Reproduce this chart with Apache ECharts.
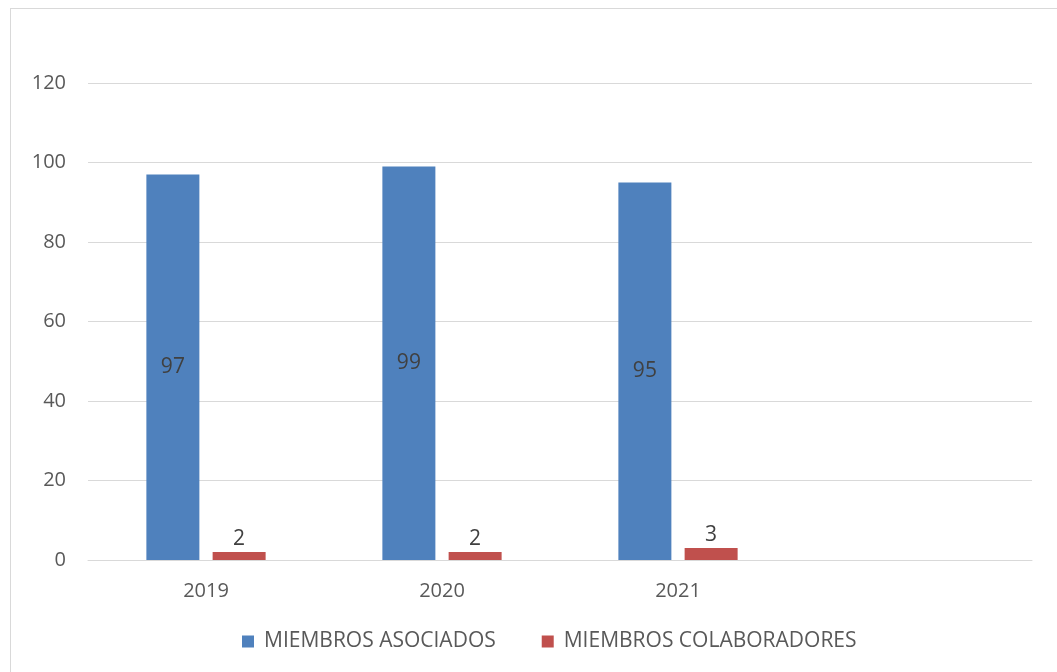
<!DOCTYPE html>
<html>
<head>
<meta charset="utf-8">
<script src="https://cdn.jsdelivr.net/npm/echarts@6/dist/echarts.min.js"></script>
<style>
html,body{margin:0;padding:0;background:#fff;overflow:hidden;}
#chart{width:1057px;height:672px;}
#frame{position:absolute;left:10px;top:8px;width:1200px;height:800px;border:1px solid #d9d9d9;pointer-events:none;}
</style>
</head>
<body>
<div id="chart"></div>
<div id="frame"></div>
<script>
const categories = ['2019', '2020', '2021', ''];
const asociados = [97, 99, 95, null];
const colaboradores = [2, 2, 3, null];
const yTicks = { min: 0, max: 120, interval: 20 };

const chart = echarts.init(document.getElementById('chart'));
const font = 'Open Sans, Liberation Sans, sans-serif';
chart.setOption({
  animation: false,
  grid: { left: 88, right: 25, top: 83, bottom: 112, containLabel: false },
  legend: {
    bottom: 15, left: 237,
    itemWidth: 12, itemHeight: 12, itemGap: 46,
    icon: 'rect',
    textStyle: { color: '#595959', fontSize: 21, fontFamily: font, padding: [0, 0, 0, 5] }
  },
  xAxis: {
    type: 'category', data: categories,
    axisLine: { lineStyle: { color: '#d9d9d9', width: 1 } },
    axisTick: { show: false },
    axisLabel: { color: '#595959', fontSize: 20, fontFamily: font, margin: 21 }
  },
  yAxis: {
    type: 'value', min: yTicks.min, max: yTicks.max, interval: yTicks.interval,
    axisLine: { show: false }, axisTick: { show: false },
    splitLine: { lineStyle: { color: '#d9d9d9', width: 1 } },
    axisLabel: { color: '#595959', fontSize: 20, fontFamily: font, margin: 22 }
  },
  series: [
    {
      name: 'MIEMBROS ASOCIADOS', type: 'bar', data: asociados,
      barWidth: 53, barGap: '25%',
      itemStyle: { color: '#4f81bd' },
      label: { show: true, position: 'inside', color: '#404040', fontSize: 21, fontFamily: font }
    },
    {
      name: 'MIEMBROS COLABORADORES', type: 'bar', data: colaboradores,
      barWidth: 53,
      itemStyle: { color: '#c0504d' },
      label: { show: true, position: 'top', distance: 3, color: '#404040', fontSize: 21, fontFamily: font }
    }
  ]
});
</script>
</body>
</html>
